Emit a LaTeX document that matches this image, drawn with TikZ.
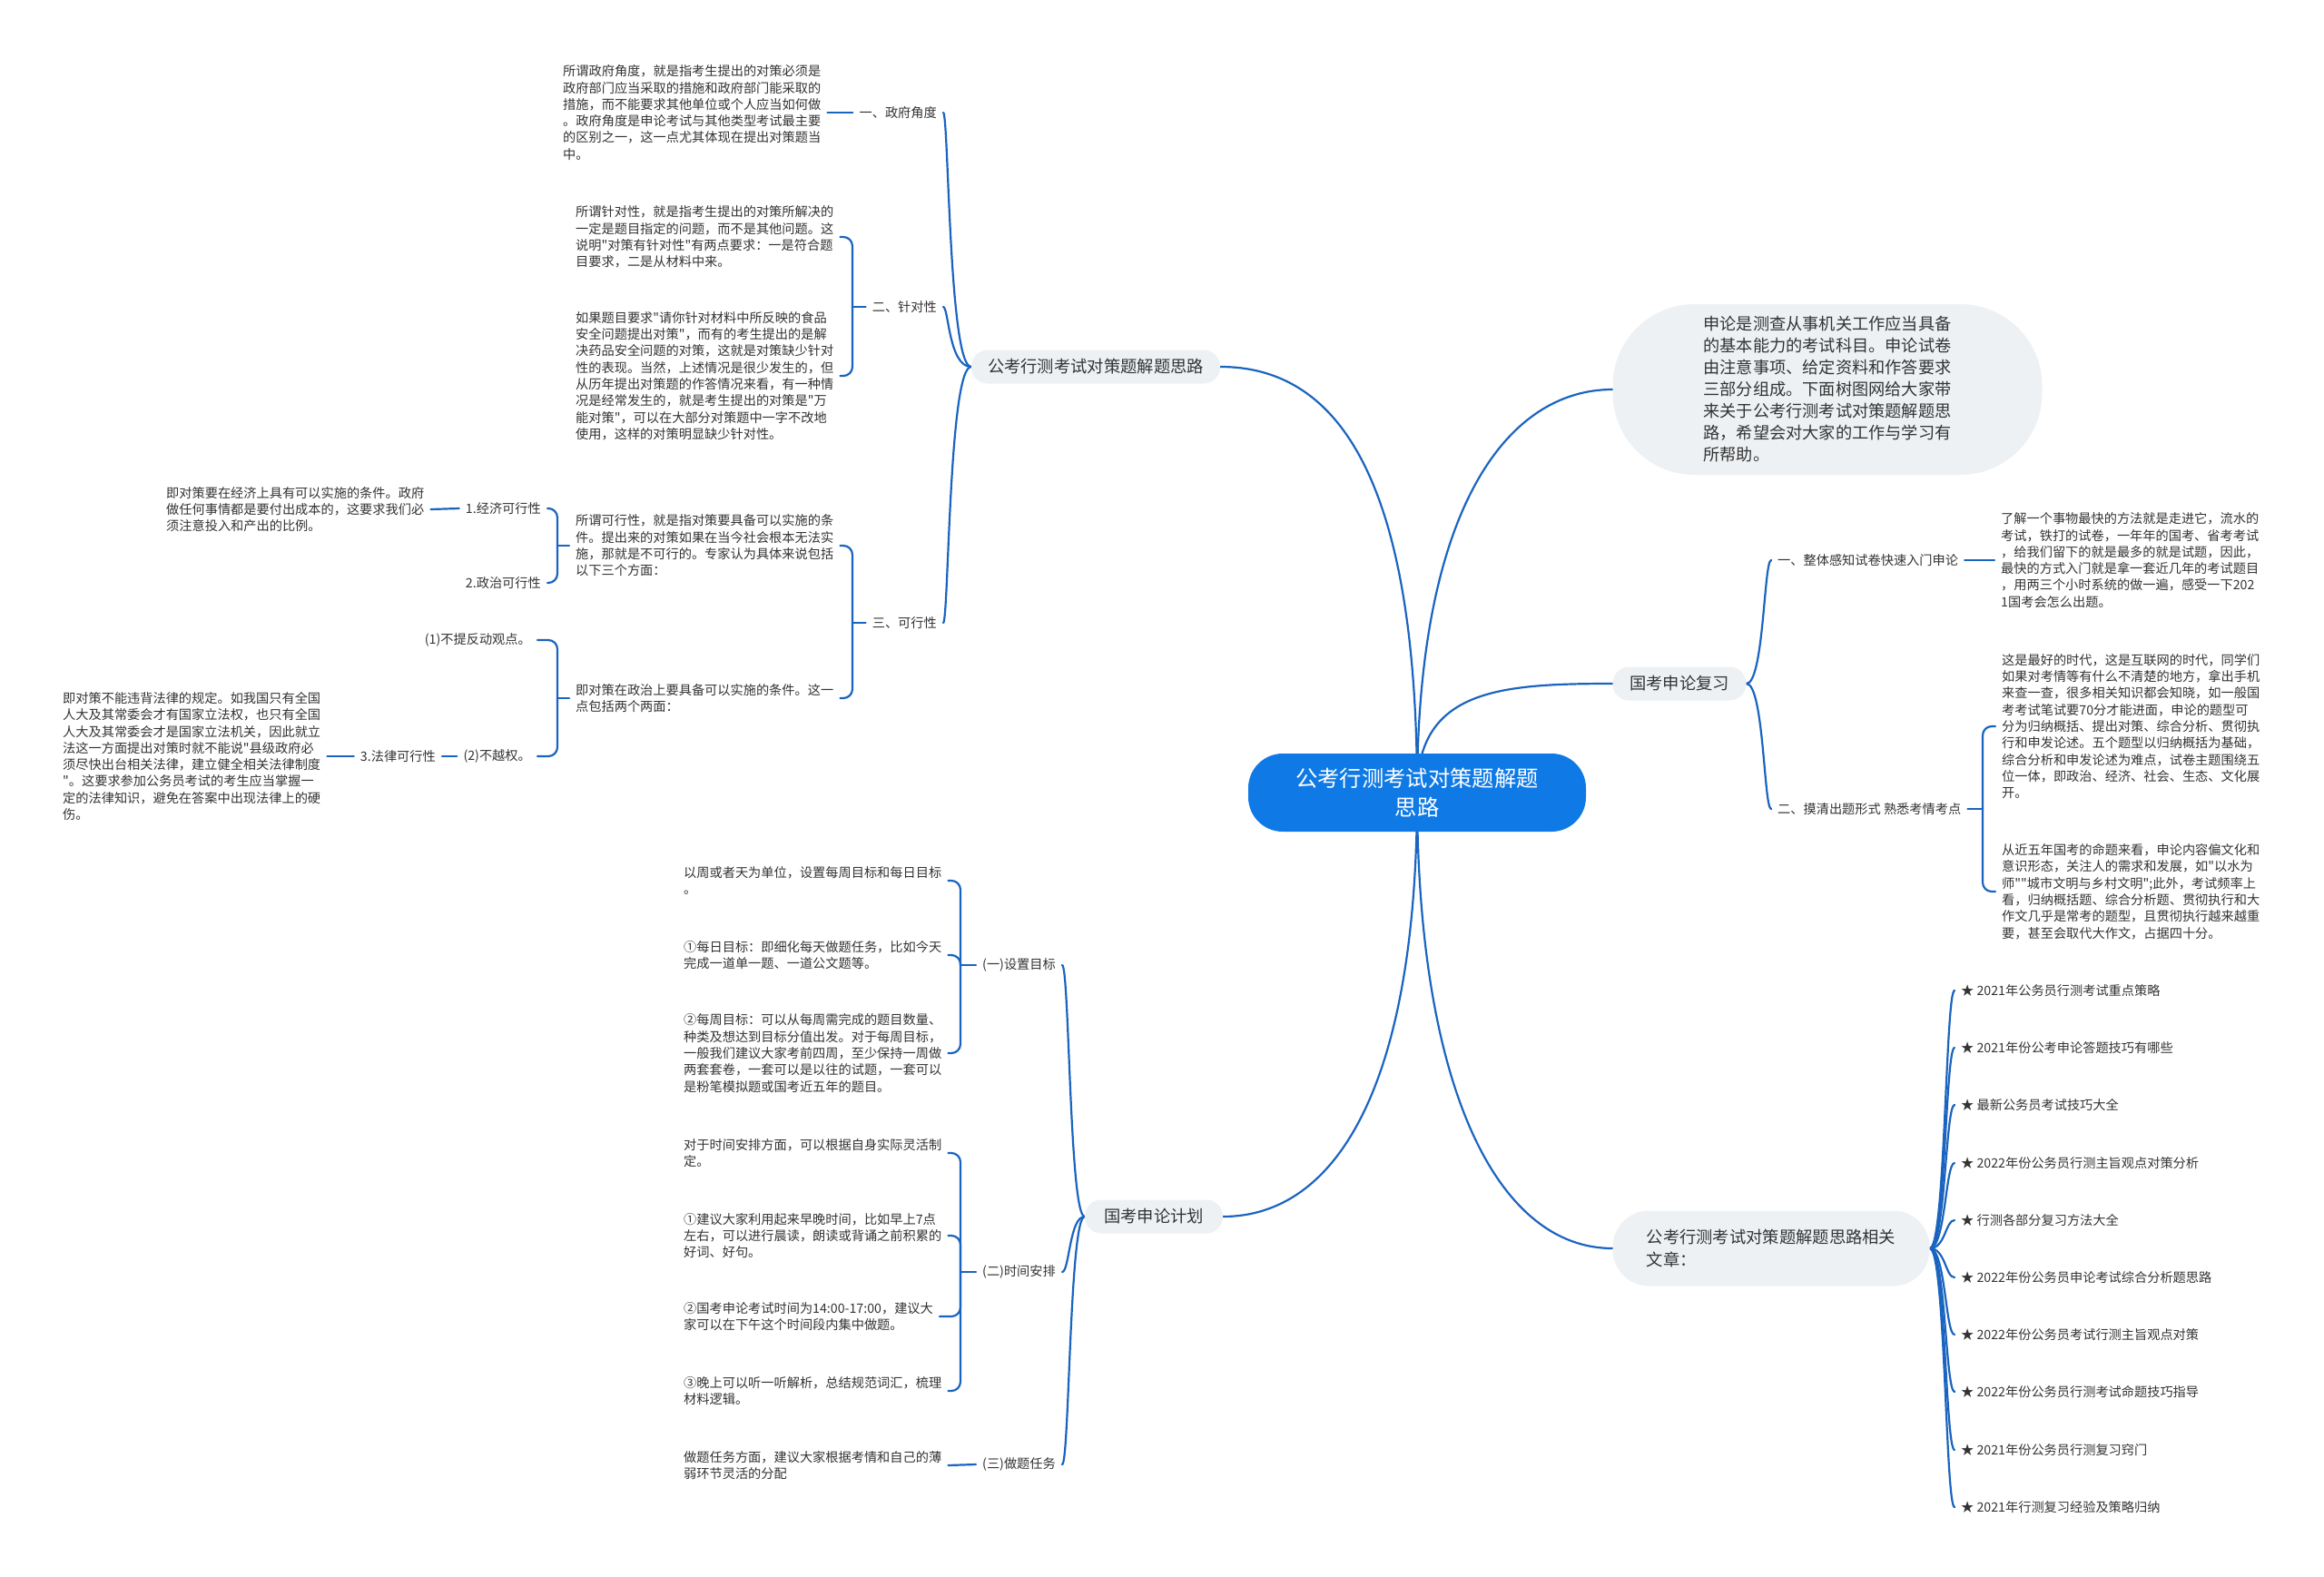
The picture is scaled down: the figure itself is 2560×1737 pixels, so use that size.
\documentclass[tikz,border=0pt]{standalone}
\usepackage{fontspec}
\setmainfont{Noto Sans CJK SC}[Ligatures=TeXOff]
\usetikzlibrary{calc}
\definecolor{lnk}{HTML}{1A64C0}
\definecolor{ctr}{HTML}{0F7AE5}
\definecolor{gry}{HTML}{EEF1F4}
\definecolor{txt}{HTML}{333333}
\pgfdeclarelayer{bg}
\pgfsetlayers{bg,main}
\tikzset{
  leaf/.style={align=left, inner xsep=7pt, inner ysep=2pt, text=txt, font=\fontsize{14.2pt}{18.3pt}\selectfont},
  lbl/.style={inner xsep=7pt, inner ysep=2pt, text=txt, font=\fontsize{14.2pt}{18.3pt}\selectfont},
  branch/.style={fill=gry, rounded corners=18pt, text=txt, font=\fontsize{18.3pt}{24pt}\selectfont, minimum height=37pt},
  link/.style={draw=lnk, line width=2.2pt, line cap=round},
  brk/.style={link, rounded corners=10pt},
}
\begin{document}
\begin{tikzpicture}[x=1pt,y=-1pt]
\useasboundingbox (0,0) rectangle (2560,1737);

% ---------- main nodes
\node[fill=ctr, rounded corners=38pt, minimum width=372pt, minimum height=86pt, align=center, text=white, font=\fontsize{24.3pt}{32pt}\selectfont] (root) at (1561,873) {公考行测考试对策题解题\\思路};
\node[branch, minimum width=274pt] (b1) at (1207,404) {公考行测考试对策题解题思路};
\node[fill=gry, rounded corners=90pt, minimum width=473pt, minimum height=188pt, align=left, text=txt, font=\fontsize{18.2pt}{24pt}\selectfont] (intro) at (2013,429) {申论是测查从事机关工作应当具备\\的基本能力的考试科目。申论试卷\\由注意事项、给定资料和作答要求\\三部分组成。下面树图网给大家带\\来关于公考行测考试对策题解题思\\路，希望会对大家的工作与学习有\\所帮助。};
\node[branch, minimum width=147pt] (b3) at (1850,753) {国考申论复习};
\node[fill=gry, rounded corners=40pt, minimum width=349pt, minimum height=83pt, align=left, text=txt, font=\fontsize{18.3pt}{25pt}\selectfont] (b4) at (1951,1375) {公考行测考试对策题解题思路相关\\文章：};
\node[branch, minimum width=152pt] (b5) at (1271,1340) {国考申论计划};

% ---------- branch 1 (upper left)
\node[lbl, anchor=east] (g1) at (1039,124) {一、政府角度};
\node[lbl, anchor=east] (g2) at (1039,338) {二、针对性};
\node[lbl, anchor=east] (g3) at (1039,686) {三、可行性};
\node[leaf, anchor=west] (t1) at (613,124) {所谓政府角度，就是指考生提出的对策必须是\\政府部门应当采取的措施和政府部门能采取的\\措施，而不能要求其他单位或个人应当如何做\\。政府角度是申论考试与其他类型考试最主要\\的区别之一，这一点尤其体现在提出对策题当\\中。};
\node[leaf, anchor=west] (t2a) at (627,261) {所谓针对性，就是指考生提出的对策所解决的\\一定是题目指定的问题，而不是其他问题。这\\说明"对策有针对性"有两点要求：一是符合题\\目要求，二是从材料中来。};
\node[leaf, anchor=west] (t2b) at (627,414) {如果题目要求"请你针对材料中所反映的食品\\安全问题提出对策"，而有的考生提出的是解\\决药品安全问题的对策，这就是对策缺少针对\\性的表现。当然，上述情况是很少发生的，但\\从历年提出对策题的作答情况来看，有一种情\\况是经常发生的，就是考生提出的对策是"万\\能对策"，可以在大部分对策题中一字不改地\\使用，这样的对策明显缺少针对性。};
\node[leaf, anchor=west] (t3a) at (627,601) {所谓可行性，就是指对策要具备可以实施的条\\件。提出来的对策如果在当今社会根本无法实\\施，那就是不可行的。专家认为具体来说包括\\以下三个方面：};
\node[leaf, anchor=west] (t3b) at (627,769) {即对策在政治上要具备可以实施的条件。这一\\点包括两个两面：};
\node[lbl, anchor=east] (e1) at (603,560) {1.经济可行性};
\node[lbl, anchor=east] (e2) at (603,642) {2.政治可行性};
\node[lbl, anchor=east] (p1) at (592,705) {(1)不提反动观点。};
\node[lbl, anchor=east] (p2) at (592,833) {(2)不越权。};
\node[lbl, anchor=east] (law) at (487,833) {3.法律可行性};
\node[leaf, anchor=west] (te) at (176,561) {即对策要在经济上具有可以实施的条件。政府\\做任何事情都是要付出成本的，这要求我们必\\须注意投入和产出的比例。};
\node[leaf, anchor=west] (tl) at (62,833) {即对策不能违背法律的规定。如我国只有全国\\人大及其常委会才有国家立法权，也只有全国\\人大及其常委会才是国家立法机关，因此就立\\法这一方面提出对策时就不能说"县级政府必\\须尽快出台相关法律，建立健全相关法律制度\\"。这要求参加公务员考试的考生应当掌握一\\定的法律知识，避免在答案中出现法律上的硬\\伤。};

% ---------- branch 5 (lower left)
\node[lbl, anchor=east] (s1) at (1170,1063) {(一)设置目标};
\node[lbl, anchor=east] (s2) at (1170,1401) {(二)时间安排};
\node[lbl, anchor=east] (s3) at (1170,1613) {(三)做题任务};
\node[leaf, anchor=west] (u1) at (746,970) {以周或者天为单位，设置每周目标和每日目标\\。};
\node[leaf, anchor=west] (u2) at (746,1052) {①每日目标：即细化每天做题任务，比如今天\\完成一道单一题、一道公文题等。};
\node[leaf, anchor=west] (u3) at (746,1160) {②每周目标：可以从每周需完成的题目数量、\\种类及想达到目标分值出发。对于每周目标，\\一般我们建议大家考前四周，至少保持一周做\\两套套卷，一套可以是以往的试题，一套可以\\是粉笔模拟题或国考近五年的题目。};
\node[leaf, anchor=west] (v1) at (746,1270) {对于时间安排方面，可以根据自身实际灵活制\\定。};
\node[leaf, anchor=west] (v2) at (746,1361) {①建议大家利用起来早晚时间，比如早上7点\\左右，可以进行晨读，朗读或背诵之前积累的\\好词、好句。};
\node[leaf, anchor=west] (v3) at (746,1450) {②国考申论考试时间为14:00-17:00，建议大\\家可以在下午这个时间段内集中做题。};
\node[leaf, anchor=west] (v4) at (746,1532) {③晚上可以听一听解析，总结规范词汇，梳理\\材料逻辑。};
\node[leaf, anchor=west] (w1) at (746,1614) {做题任务方面，建议大家根据考情和自己的薄\\弱环节灵活的分配};

% ---------- branch 3 (right)
\node[lbl, anchor=west] (r1) at (1951,617) {一、整体感知试卷快速入门申论};
\node[lbl, anchor=west] (r2) at (1951,891) {二、摸清出题形式 熟悉考情考点};
\node[leaf, anchor=west] (q1) at (2197,617) {了解一个事物最快的方法就是走进它，流水的\\考试，铁打的试卷，一年年的国考、省考考试\\，给我们留下的就是最多的就是试题，因此，\\最快的方式入门就是拿一套近几年的考试题目\\，用两三个小时系统的做一遍，感受一下202\\1国考会怎么出题。};
\node[leaf, anchor=west] (q2) at (2198,800) {这是最好的时代，这是互联网的时代，同学们\\如果对考情等有什么不清楚的地方，拿出手机\\来查一查，很多相关知识都会知晓，如一般国\\考考试笔试要70分才能进面，申论的题型可\\分为归纳概括、提出对策、综合分析、贯彻执\\行和申发论述。五个题型以归纳概括为基础，\\综合分析和申发论述为难点，试卷主题围绕五\\位一体，即政治、经济、社会、生态、文化展\\开。};
\node[leaf, anchor=west] (q3) at (2198,982) {从近五年国考的命题来看，申论内容偏文化和\\意识形态，关注人的需求和发展，如"以水为\\师""城市文明与乡村文明";此外，考试频率上\\看，归纳概括题、综合分析题、贯彻执行和大\\作文几乎是常考的题型，且贯彻执行越来越重\\要，甚至会取代大作文，占据四十分。};

% ---------- branch 4 (related articles)
\node[lbl, anchor=west] (a1) at (2153,1091) {★ 2021年公务员行测考试重点策略};
\node[lbl, anchor=west] (a2) at (2153,1154) {★ 2021年份公考申论答题技巧有哪些};
\node[lbl, anchor=west] (a3) at (2153,1217) {★ 最新公务员考试技巧大全};
\node[lbl, anchor=west] (a4) at (2153,1281) {★ 2022年份公务员行测主旨观点对策分析};
\node[lbl, anchor=west] (a5) at (2153,1344) {★ 行测各部分复习方法大全};
\node[lbl, anchor=west] (a6) at (2153,1407) {★ 2022年份公务员申论考试综合分析题思路};
\node[lbl, anchor=west] (a7) at (2153,1470) {★ 2022年份公务员考试行测主旨观点对策};
\node[lbl, anchor=west] (a8) at (2153,1533) {★ 2022年份公务员行测考试命题技巧指导};
\node[lbl, anchor=west] (a9) at (2153,1597) {★ 2021年份公务员行测复习窍门};
\node[lbl, anchor=west] (a10) at (2153,1660) {★ 2021年行测复习经验及策略归纳};

% ---------- bracket x positions
\coordinate (xb1) at (1045,0);
\coordinate (xg) at (939,0);
\coordinate (xt) at (614,0);
\coordinate (xb5) at (1178,0);
\coordinate (xs) at (1058,0);
\coordinate (xb3) at (1943,0);
\coordinate (xr) at (2184,0);
\coordinate (xb4) at (2143,0);

\begin{pgfonlayer}{bg}
\fill[white] (0,0) rectangle (2560,1737);
% root to branches
\draw[link] (root.center) .. controls (1561,520) and (1470,404) .. (b1.east);
\draw[link] (root.center) .. controls (1561,560) and (1660,429) .. (intro.west);
\draw[link] (root.center) .. controls (1561,760) and (1650,753) .. (b3.west);
\draw[link] (root.center) .. controls (1561,1200) and (1650,1375) .. (b4.west);
\draw[link] (root.center) .. controls (1561,1200) and (1470,1340) .. (b5.east);

% branch 1
\foreach \c in {g1,g2,g3}
  \draw[link] (b1.west) .. controls (b1.west -| xb1) and (xb1 |- \c.east) .. (\c.east);
\draw[link] (g1.west) -- (t1.east);
\draw[link] (g2.west) -- (g2.west -| xg);
\foreach \c in {t2a,t2b} \draw[brk] (g2.west -| xg) |- (\c.east);
\draw[link] (g3.west) -- (g3.west -| xg);
\foreach \c in {t3a,t3b} \draw[brk] (g3.west -| xg) |- (\c.east);
\draw[link] (t3a.west) -- (t3a.west -| xt);
\foreach \c in {e1,e2} \draw[brk] (t3a.west -| xt) |- (\c.east);
\draw[link] (t3b.west) -- (t3b.west -| xt);
\foreach \c in {p1,p2} \draw[brk] (t3b.west -| xt) |- (\c.east);
\draw[link] (e1.west) -- (te.east);
\draw[link] (p2.west) -- (law.east);
\draw[link] (law.west) -- (tl.east);

% branch 5
\foreach \c in {s1,s2,s3}
  \draw[link] (b5.west) .. controls (b5.west -| xb5) and (xb5 |- \c.east) .. (\c.east);
\draw[link] (s1.west) -- (s1.west -| xs);
\foreach \c in {u1,u2,u3} \draw[brk] (s1.west -| xs) |- (\c.east);
\draw[link] (s2.west) -- (s2.west -| xs);
\foreach \c in {v1,v2,v3,v4} \draw[brk] (s2.west -| xs) |- (\c.east);
\draw[link] (s3.west) -- (w1.east);

% branch 3
\foreach \c in {r1,r2}
  \draw[link] (b3.east) .. controls (b3.east -| xb3) and (xb3 |- \c.west) .. (\c.west);
\draw[link] (r1.east) -- (q1.west);
\draw[link] (r2.east) -- (r2.east -| xr);
\foreach \c in {q2,q3} \draw[brk] (r2.east -| xr) |- (\c.west);

% branch 4
\foreach \c in {a1,a2,a3,a4,a5,a6,a7,a8,a9,a10}
  \draw[link] (b4.east) .. controls (b4.east -| xb4) and (xb4 |- \c.west) .. (\c.west);
\end{pgfonlayer}
\end{tikzpicture}
\end{document}
